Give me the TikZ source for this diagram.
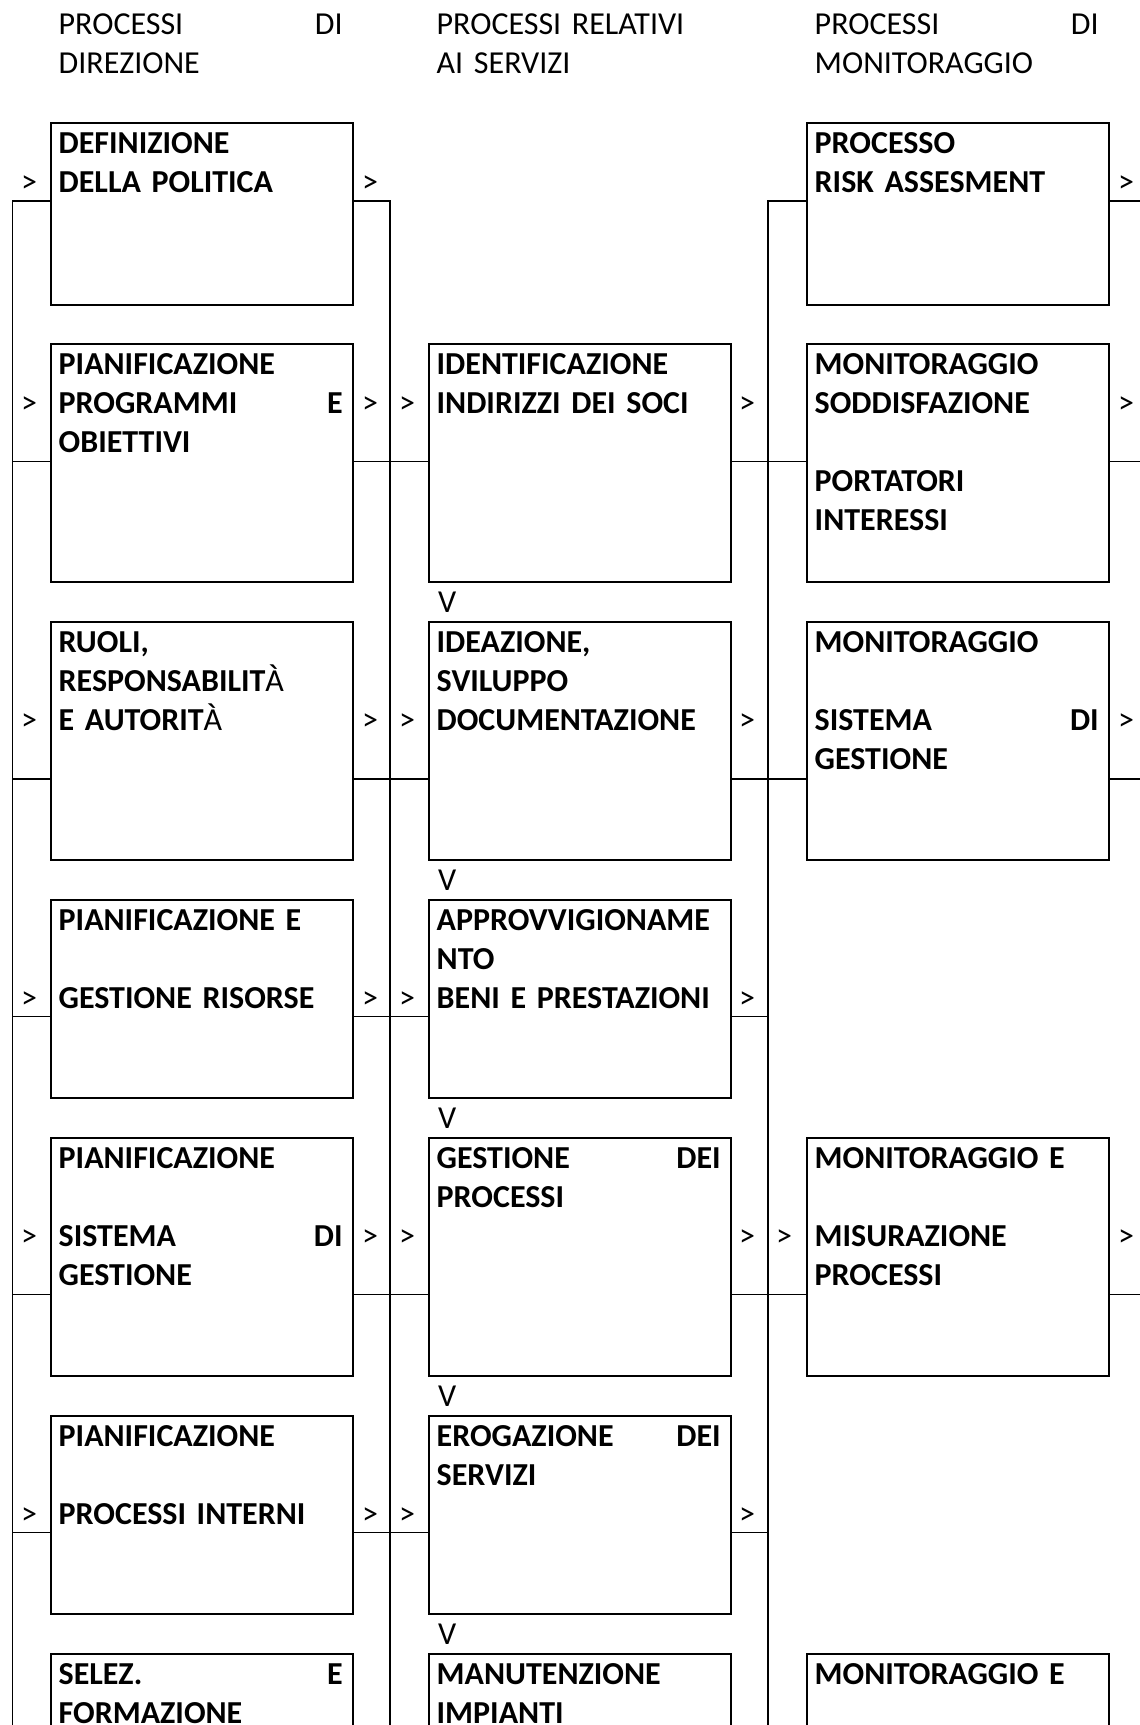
\documentclass[tikz,border=0pt]{standalone}
\usepackage{fontspec}
\setmainfont{Carlito}
\newcommand{\spread}{\hskip 0pt plus 1filll\relax}
\begin{document}
\begin{tikzpicture}[x=1pt,y=-1pt,
    box/.style={draw,line width=1.7pt,anchor=north west,inner sep=0pt,
      minimum width=302pt,minimum height=#1},
    txt/.style={anchor=base west,inner sep=0pt,text width=284pt,align=left,
      font=\fontsize{32}{39}\selectfont\bfseries},
    head/.style={txt,font=\fontsize{32}{39}\selectfont},
    arr/.style={anchor=base,inner sep=0pt,font=\fontsize{32}{39}\selectfont},
    link/.style={line width=1.3pt}]
  \useasboundingbox (0,0) rectangle (1140,1725);
  \clip (0,0) rectangle (1140,1725);
  % intestazioni delle colonne
  \node[head] (h1) at (58.5,34) {PROCESSI\spread DI\\DIREZIONE};
  \node[head] (h2) at (436.5,34) {PROCESSI RELATIVI\\AI SERVIZI};
  \node[head] (h3) at (814.5,34) {PROCESSI\spread DI\\MONITORAGGIO};
  % riquadri: direzione (d), servizi (s), monitoraggio (m)
  \foreach \n/\t/\h in {1/122/182,2/343/238,3/621/238,4/899/198,5/1137/238,6/1415/198,7/1653/238}
    \node[box=\h pt] (d\n) at (50,\t) {};
  \foreach \n/\t/\h in {2/343/238,3/621/238,4/899/198,5/1137/238,6/1415/198,7/1653/238}
    \node[box=\h pt] (s\n) at (428,\t) {};
  \foreach \n/\t/\h in {1/122/182,2/343/238,3/621/238,5/1137/238,7/1653/238}
    \node[box=\h pt] (m\n) at (806,\t) {};
  % testi colonna direzione
  \node[txt] (d1t) at ([xshift=8.5pt,yshift=-31pt]d1.north west) {DEFINIZIONE\\DELLA POLITICA};
  \node[txt] (d2t) at ([xshift=8.5pt,yshift=-31pt]d2.north west) {PIANIFICAZIONE\\PROGRAMMI\spread E\\OBIETTIVI};
  \node[txt] (d3t) at ([xshift=8.5pt,yshift=-31pt]d3.north west) {RUOLI,\\RESPONSABILIT{\mdseries À}\\E AUTORIT{\mdseries À}};
  \node[txt] (d4t) at ([xshift=8.5pt,yshift=-31pt]d4.north west) {PIANIFICAZIONE E\\\mbox{}\\GESTIONE RISORSE};
  \node[txt] (d5t) at ([xshift=8.5pt,yshift=-31pt]d5.north west) {PIANIFICAZIONE\\\mbox{}\\SISTEMA\spread DI\\GESTIONE};
  \node[txt] (d6t) at ([xshift=8.5pt,yshift=-31pt]d6.north west) {PIANIFICAZIONE\\\mbox{}\\PROCESSI INTERNI};
  \node[txt] (d7t) at ([xshift=8.5pt,yshift=-31pt]d7.north west) {SELEZ.\spread E\\FORMAZIONE};
  % testi colonna servizi
  \node[txt] (s2t) at ([xshift=8.5pt,yshift=-31pt]s2.north west) {IDENTIFICAZIONE\\INDIRIZZI DEI SOCI};
  \node[txt] (s3t) at ([xshift=8.5pt,yshift=-31pt]s3.north west) {IDEAZIONE,\\SVILUPPO\\DOCUMENTAZIONE};
  \node[txt] (s4t) at ([xshift=8.5pt,yshift=-31pt]s4.north west) {APPROVVIGIONAME\\NTO\\BENI E PRESTAZIONI};
  \node[txt] (s5t) at ([xshift=8.5pt,yshift=-31pt]s5.north west) {GESTIONE\spread DEI\\PROCESSI};
  \node[txt] (s6t) at ([xshift=8.5pt,yshift=-31pt]s6.north west) {EROGAZIONE\spread DEI\\SERVIZI};
  \node[txt] (s7t) at ([xshift=8.5pt,yshift=-31pt]s7.north west) {MANUTENZIONE\\IMPIANTI};
  % testi colonna monitoraggio
  \node[txt] (m1t) at ([xshift=8.5pt,yshift=-31pt]m1.north west) {PROCESSO\\RISK ASSESMENT};
  \node[txt] (m2t) at ([xshift=8.5pt,yshift=-31pt]m2.north west) {MONITORAGGIO\\SODDISFAZIONE\\\mbox{}\\PORTATORI\\INTERESSI};
  \node[txt] (m3t) at ([xshift=8.5pt,yshift=-31pt]m3.north west) {MONITORAGGIO\\\mbox{}\\SISTEMA\spread DI\\GESTIONE};
  \node[txt] (m5t) at ([xshift=8.5pt,yshift=-31pt]m5.north west) {MONITORAGGIO E\\\mbox{}\\MISURAZIONE\\PROCESSI};
  \node[txt] (m7t) at ([xshift=8.5pt,yshift=-31pt]m7.north west) {MONITORAGGIO E};
  % segni ">" accanto ai riquadri
  \foreach \n/\y/\xl in {1/192/{29,370,1126},2/413/{29,370,407,747,1126},
      3/730/{29,370,407,747,1126},4/1008/{29,370,407,747},
      5/1246/{29,370,407,747,784,1126},6/1524/{29,370,407,747}}
    \foreach \x in \xl
      \node[arr] (g\n-\x) at (\x,\y) {>};
  % segni "V" tra i riquadri dei servizi
  \foreach \n/\y in {3/612.5,4/890.5,5/1128.5,6/1406.5,7/1644.5}
    \node[arr,anchor=base west] (v\n) at (438,\y) {V};
  % linee verticali e collegamenti
  \coordinate (bl) at (12.5,201);
  \coordinate (bm) at (390,201);
  \coordinate (br) at (768,201);
  \coordinate (be) at (1140,201);
  \coordinate (bot) at (0,1725);
  \draw[link] (d1.west |- bl) -- (bl) -- (bl |- bot);
  \draw[link] (d1.east |- bm) -- (bm) -- (bm |- bot);
  \draw[link] (m1.west |- br) -- (br) -- (br |- bot);
  \draw[link] (m1.east |- be) -- (be);
  \foreach \n/\y in {2/461.7,3/779,4/1016.7,5/1294.3,6/1532.7}{
    \coordinate (r\n) at (0,\y);
    \draw[link] (bl |- r\n) -- (d\n.west |- r\n) (d\n.east |- r\n) -- (bm |- r\n);
    \draw[link] (bm |- r\n) -- (s\n.west |- r\n) (s\n.east |- r\n) -- (br |- r\n);
  }
  \foreach \n in {2,3,5}
    \draw[link] (br |- r\n) -- (m\n.west |- r\n) (m\n.east |- r\n) -- (be |- r\n);
\end{tikzpicture}
\end{document}
